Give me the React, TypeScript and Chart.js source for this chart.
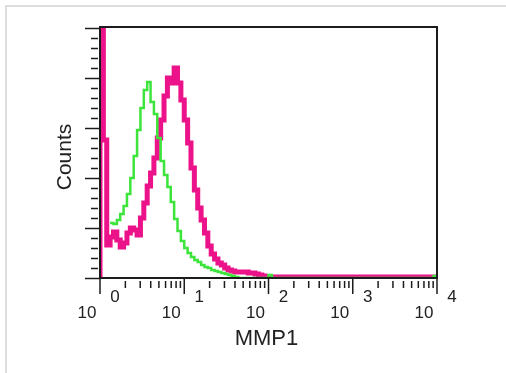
import React, { useEffect, useRef } from "react";
import { Chart, registerables } from "chart.js";

Chart.register(...registerables);

// Histogram bin starts, in decades (log10 of MMP1 fluorescence)
const binStarts = [
  0.0, 0.04, 0.08, 0.12, 0.16, 0.2, 0.24, 0.28, 0.32, 0.36,
  0.4, 0.44, 0.48, 0.52, 0.56, 0.6, 0.64, 0.68, 0.72, 0.76,
  0.8, 0.84, 0.88, 0.92, 0.96, 1.0, 1.04, 1.08, 1.12, 1.16,
  1.2, 1.24, 1.28, 1.32, 1.36, 1.4, 1.44, 1.48, 1.52, 1.56,
  1.6, 1.64, 1.68, 1.72, 1.76, 1.8, 1.84, 1.88, 1.92, 1.96,
  2.0, 2.04, 3.96, 4.0,
];

// Green (control) histogram counts
const controlCounts: (number | null)[] = [
  null, null, null, 55, 54, 58, 64, 72, 84, 100,
  122, 148, 170, 188, 196, 176, 164, 140, 117, 103,
  91, 76, 59, 47, 37, 30, 25, 21, 18, 16,
  13, 11, 10, 8, 7, 6, 5, 4, 3, 2,
  1, 0, 0, 0, 0, 0, 0, 0, 0, 0,
  3, 0, 2, 0,
];

// Magenta (MMP1) histogram counts
const mmp1Counts = [
  249, 138, 33, 41, 46, 38, 31, 35, 45, 50,
  48, 43, 60, 75, 92, 105, 120, 140, 158, 182,
  200, 195, 210, 195, 178, 158, 135, 110, 88, 70,
  58, 45, 32, 24, 19, 15, 13, 10, 8, 7,
  6, 6, 6, 6, 5, 5, 4, 3, 2, 1,
  1, 1, 1, 1,
];

const decades = [0, 1, 2, 3, 4];
const decadeBase = "10";
const yTickValues = [0, 10, 20, 30, 40, 50, 60, 70, 80, 90, 100, 110, 120, 130, 140, 150, 160, 170, 180, 190, 200, 210, 220, 230, 240, 250];
const xTitle = "MMP1";
const yTitle = "Counts";

const FONT = "'Liberation Sans', Arial, sans-serif";

const framePlugin = {
  id: "flowFrame",
  beforeDraw(chart: any) {
    const ctx = chart.ctx;
    ctx.save();
    ctx.fillStyle = "#ffffff";
    ctx.fillRect(0, 0, chart.width, chart.height);
    ctx.fillStyle = "#dddddd";
    ctx.fillRect(5, 5, chart.width - 5, 2);
    ctx.fillRect(5, 5, 2, chart.height - 5);
    ctx.restore();
  },
  afterDatasetsDraw(chart: any) {
    const { ctx, chartArea: a, scales } = chart;
    const xs = scales.x;
    const ys = scales.y;
    ctx.save();
    ctx.strokeStyle = "#1c1c1c";
    ctx.lineWidth = 2;
    ctx.strokeRect(a.left, a.top, a.right - a.left, a.bottom - a.top);

    // y ticks (outside, to the left)
    ctx.lineWidth = 1.5;
    yTickValues.forEach((v) => {
      const py = Math.round(ys.getPixelForValue(v)) + 0.5;
      const major = v % 50 === 0;
      ctx.beginPath();
      ctx.moveTo(a.left - (major ? 15 : 9), py);
      ctx.lineTo(a.left - (major ? 0 : 2), py);
      ctx.stroke();
    });

    // x ticks (log decades with minor ticks)
    decades.forEach((d) => {
      const px = xs.getPixelForValue(d);
      ctx.beginPath();
      ctx.moveTo(px, a.bottom);
      ctx.lineTo(px, a.bottom + 16);
      ctx.stroke();
      if (d < 4) {
        for (let k = 2; k <= 9; k++) {
          const mx = xs.getPixelForValue(d + Math.log10(k));
          ctx.beginPath();
          ctx.moveTo(mx, a.bottom + 3);
          ctx.lineTo(mx, a.bottom + 10);
          ctx.stroke();
        }
      }
    });

    // tick labels 10^n
    ctx.fillStyle = "#222222";
    ctx.textAlign = "center";
    ctx.textBaseline = "middle";
    ctx.font = `17px ${FONT}`;
    decades.forEach((d) => {
      const px = xs.getPixelForValue(d);
      ctx.fillText(decadeBase, px - 13, a.bottom + 35);
      ctx.fillText(String(d), px + 15, a.bottom + 19);
    });

    // axis titles
    ctx.font = `22px ${FONT}`;
    ctx.fillText(xTitle, (a.left + a.right) / 2 - 2, a.bottom + 61);
    ctx.save();
    ctx.translate(a.left - 35, a.top + 130);
    ctx.rotate(-Math.PI / 2);
    ctx.font = `21px ${FONT}`;
    ctx.fillText(yTitle, 0, 0);
    ctx.restore();
    ctx.restore();
  },
};

export default function App() {
  const ref = useRef<HTMLCanvasElement | null>(null);
  useEffect(() => {
    if (!ref.current) return;
    const controlData = binStarts.map((x, i) => ({ x, y: controlCounts[i] }));
    const mmp1Data = [{ x: binStarts[0], y: 0 }].concat(
      binStarts.map((x, i) => ({ x, y: mmp1Counts[i] }))
    );
    const chart = new Chart(ref.current, {
      type: "line",
      data: {
        datasets: [
          {
            label: "Control",
            data: controlData as any,
            borderColor: "rgb(60, 228, 60)",
            borderWidth: 2.5,
            stepped: true,
            pointRadius: 0,
            fill: false,
            spanGaps: false,
          },
          {
            label: "MMP1",
            data: mmp1Data as any,
            borderColor: "rgb(236, 18, 138)",
            borderWidth: 5,
            stepped: true,
            pointRadius: 0,
            fill: false,
          },
        ],
      },
      options: {
        animation: false,
        responsive: false,
        devicePixelRatio: 1,
        layout: { padding: { left: 100, right: 69, top: 27, bottom: 95 } },
        scales: {
          x: { type: "linear", min: 0, max: 4, display: false },
          y: { type: "linear", min: 0, max: 251, display: false },
        },
        plugins: {
          legend: { display: false },
          tooltip: { enabled: false },
        },
      },
      plugins: [framePlugin],
    });
    return () => chart.destroy();
  }, []);

  return (
    <div style={{ position: "fixed", left: 0, top: 0, width: 506, height: 373, background: "#fff" }}>
      <canvas ref={ref} width={506} height={373} style={{ display: "block", width: 506, height: 373 }} />
    </div>
  );
}
